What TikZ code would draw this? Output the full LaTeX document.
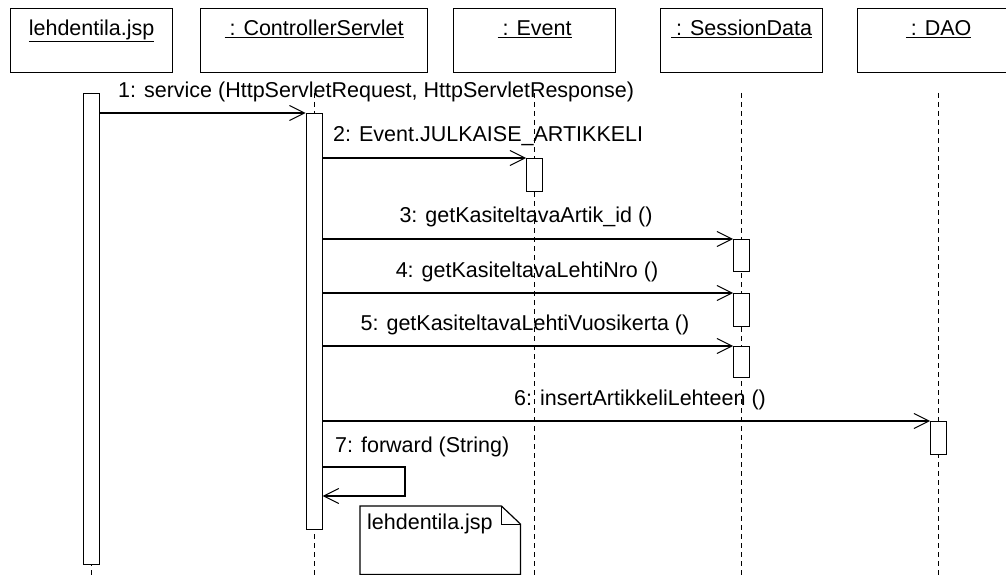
\documentclass[tikz,border=0pt]{standalone}
\usepackage{fontspec}
\setmainfont{Liberation Sans}
\usetikzlibrary{arrows.meta,positioning}

\tikzset{
  objbox/.style={draw,line width=1.2pt,inner sep=0pt,anchor=north west,minimum width=162pt,text height=27pt,text depth=37pt},
  actbox/.style={draw,fill=white,line width=1.2pt,inner sep=0pt,minimum width=16pt,anchor=north},
  msg/.style={-{Straight Barb[length=15pt,width=15pt,line width=1pt]},line width=1.2pt},
  lifeline/.style={line width=1pt,dash pattern=on 5pt off 4pt},
  msglabel/.style={inner sep=0pt,anchor=base west},
  notebox/.style={inner xsep=7pt,inner ysep=0pt,anchor=north west,text width=146pt,align=left,text height=23pt,text depth=45pt},
}

\begin{document}
\begin{tikzpicture}[x=1pt,y=-1pt,every node/.style={font=\fontsize{21.5}{25}\selectfont}]
			\useasboundingbox (0,0) rectangle (1006,575);
			\clip (0,0) rectangle (1006,575);
			% objects
			\node[objbox] (jsp) at (10,8) {\underline{lehdentila.jsp}};
			\node[objbox,minimum width=227pt] (ctrl) at (200,8) {\underline{\hspace{5pt}: ControllerServlet}};
			\node[objbox] (event) at (453,8) {\underline{\hspace{5pt}: Event}};
			\node[objbox] (sdata) at (660,8) {\underline{\hspace{5pt}: SessionData}};
			\node[objbox] (dao) at (857,8) {\underline{\hspace{5pt}: DAO}};
			% lifelines
			\draw[lifeline] (jsp.south |- 0,93) -- (jsp.south |- 0,575);
			\draw[lifeline] (ctrl.south |- 0,93) -- (ctrl.south |- 0,575);
			\draw[lifeline] (event.south |- 0,93) -- (event.south |- 0,575);
			\draw[lifeline] (sdata.south |- 0,93) -- (sdata.south |- 0,575);
			\draw[lifeline] (dao.south |- 0,93) -- (dao.south |- 0,575);
			% activations
			\node[actbox,minimum height=471pt] (jspact) at (jsp.south |- 0,93) {};
			\node[actbox,minimum height=416pt] (ctrlact) at (ctrl.south |- 0,113) {};
			\node[actbox,minimum height=33pt] (evact) at (event.south |- 0,158) {};
			\node[actbox,minimum height=32pt] (sact1) at (sdata.south |- 0,239) {};
			\node[actbox,minimum height=33pt] (sact2) at (sdata.south |- 0,293) {};
			\node[actbox,minimum height=31pt] (sact3) at (sdata.south |- 0,346) {};
			\node[actbox,minimum height=33pt] (daoact) at (dao.south |- 0,421) {};
			% messages
			\draw[msg] (ctrlact.north west -| jspact.east) -- (ctrlact.north west);
			\draw[msg] (evact.north west -| ctrlact.east) -- (evact.north west);
			\draw[msg] (sact1.north west -| ctrlact.east) -- (sact1.north west);
			\draw[msg] (sact2.north west -| ctrlact.east) -- (sact2.north west);
			\draw[msg] (sact3.north west -| ctrlact.east) -- (sact3.north west);
			\draw[msg] (daoact.north west -| ctrlact.east) -- (daoact.north west);
			\draw[msg] (ctrlact.east |- 0,467) -| (405,496) -- (ctrlact.east |- 0,496);
			\node[msglabel] (m1) at (118,98) {1: service (HttpServletRequest, HttpServletResponse)};
			\node[msglabel] (m2) at (333,142) {2: Event.JULKAISE\_ARTIKKELI};
			\node[msglabel,anchor=base] (m3) at (526,222) {3: getKasiteltavaArtik\_id ()};
			\node[msglabel,anchor=base] (m4) at (527,277) {4: getKasiteltavaLehtiNro ()};
			\node[msglabel,anchor=base] (m5) at (525,330) {5: getKasiteltavaLehtiVuosikerta ()};
			\node[msglabel,anchor=base] (m6) at (640,405) {6: insertArtikkeliLehteen ()};
			\node[msglabel] (m7) at (335,452) {7: forward (String)};
			% note
			\node[notebox] (note) at (360,506) {lehdentila.jsp};
			\draw[line width=1.2pt] (note.north west) -- ([xshift=-19pt]note.north east) -- ([yshift=-18pt]note.north east) -- (note.south east) -- (note.south west) -- cycle;
			\draw[line width=1pt] ([xshift=-19pt]note.north east) |- ([yshift=-18pt]note.north east);
		\end{tikzpicture}
\end{document}
